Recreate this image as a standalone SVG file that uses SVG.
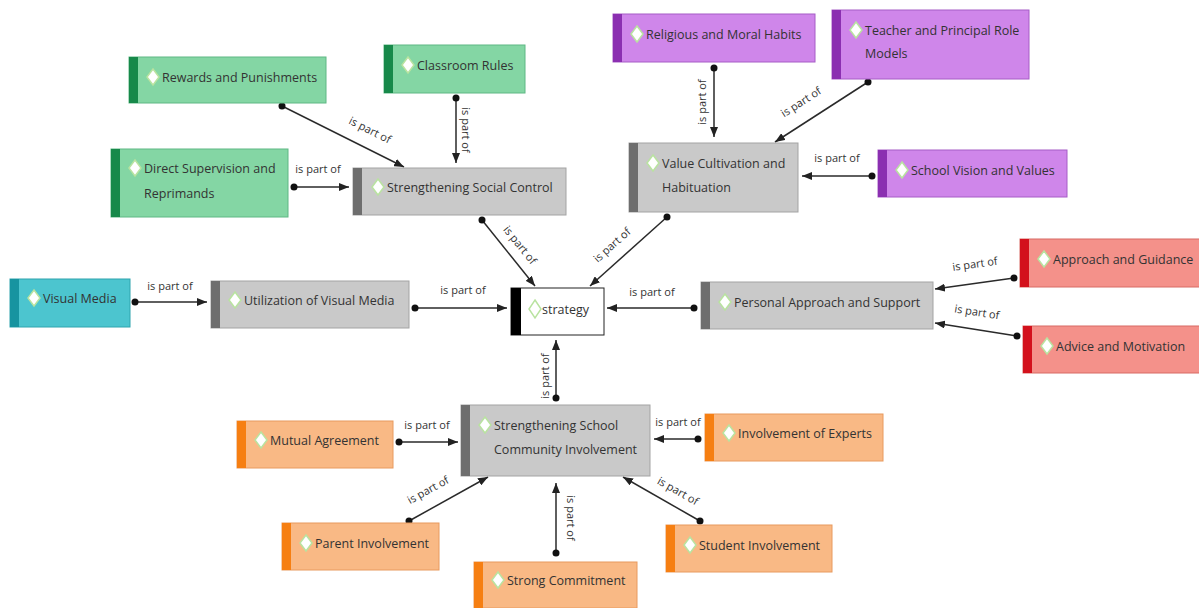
<svg xmlns="http://www.w3.org/2000/svg" width="1199" height="608" viewBox="0 0 1199 608">
<style>
.box{stroke-width:1}
.green{fill:#84d6a4;stroke:#5fb884}
.greenS{fill:#17894a}
.purple{fill:#cf86ea;stroke:#a65cc6}
.purpleS{fill:#8b2fb1}
.gray{fill:#c9c9c9;stroke:#a3a3a3}
.grayS{fill:#6e6e6e}
.teal{fill:#4cc5cf;stroke:#2ea4ae}
.tealS{fill:#1794a0}
.red{fill:#f4918a;stroke:#d86a64}
.redS{fill:#d3111c}
.orange{fill:#f9b985;stroke:#e89a5e}
.orangeS{fill:#f67f12}
.white{fill:#ffffff;stroke:#222222}
.blackS{fill:#000000}
.dia{fill:#ffffff;stroke:#b9e3a0;stroke-width:1.5}
.t{font-family:"Open Sans","Noto Sans","Liberation Sans",sans-serif;font-size:12.5px;fill:#333333}
.lbl{font-family:"Open Sans","Noto Sans","Liberation Sans",sans-serif;font-size:11px;fill:#333333;text-anchor:middle}
.edge{stroke:#2a2a2a;stroke-width:1.5;fill:none;marker-start:url(#dot);marker-end:url(#arr)}
</style>
<defs>
<marker id="arr" markerWidth="10" markerHeight="8" refX="10" refY="4" orient="auto" markerUnits="userSpaceOnUse"><path d="M0,0 L10,4 L0,8 z" fill="#222222"/></marker>
<marker id="dot" markerWidth="8" markerHeight="8" refX="4" refY="4" markerUnits="userSpaceOnUse"><circle cx="4" cy="4" r="3.5" fill="#111111"/></marker>
</defs>
<rect width="1199" height="608" fill="#ffffff"/>

<g id="connectors">
<line class="edge" x1="282" y1="106" x2="404" y2="167"/>
<text class="lbl" transform="translate(370,130) rotate(26.6)" dy="0.35em">is part of</text>
<line class="edge" x1="456" y1="98" x2="456" y2="163"/>
<text class="lbl" transform="translate(466,130) rotate(90)" dy="0.35em">is part of</text>
<line class="edge" x1="294" y1="187" x2="349" y2="187"/>
<text class="lbl" transform="translate(318,169)" dy="0.35em">is part of</text>
<line class="edge" x1="482" y1="220" x2="535" y2="286"/>
<text class="lbl" transform="translate(520,245) rotate(51)" dy="0.35em">is part of</text>
<line class="edge" x1="667" y1="217" x2="590" y2="286"/>
<text class="lbl" transform="translate(612,245) rotate(-41.9)" dy="0.35em">is part of</text>
<line class="edge" x1="714" y1="68" x2="714" y2="137"/>
<text class="lbl" transform="translate(702,102) rotate(-90)" dy="0.35em">is part of</text>
<line class="edge" x1="868" y1="82" x2="775" y2="142"/>
<text class="lbl" transform="translate(801,102) rotate(-32.8)" dy="0.35em">is part of</text>
<line class="edge" x1="872" y1="176" x2="802" y2="176"/>
<text class="lbl" transform="translate(837,158)" dy="0.35em">is part of</text>
<line class="edge" x1="135" y1="302" x2="207" y2="302"/>
<text class="lbl" transform="translate(170,286)" dy="0.35em">is part of</text>
<line class="edge" x1="415" y1="308" x2="507" y2="308"/>
<text class="lbl" transform="translate(463,290)" dy="0.35em">is part of</text>
<line class="edge" x1="694" y1="308" x2="607" y2="308"/>
<text class="lbl" transform="translate(652,292)" dy="0.35em">is part of</text>
<line class="edge" x1="1014" y1="278" x2="935" y2="289"/>
<text class="lbl" transform="translate(975,264) rotate(-8)" dy="0.35em">is part of</text>
<line class="edge" x1="1017" y1="336" x2="935" y2="323"/>
<text class="lbl" transform="translate(977,312) rotate(9)" dy="0.35em">is part of</text>
<line class="edge" x1="556" y1="398" x2="556" y2="340"/>
<text class="lbl" transform="translate(545,376) rotate(-90)" dy="0.35em">is part of</text>
<line class="edge" x1="399" y1="442" x2="458" y2="442"/>
<text class="lbl" transform="translate(427,425)" dy="0.35em">is part of</text>
<line class="edge" x1="698" y1="439" x2="654" y2="439"/>
<text class="lbl" transform="translate(678,422)" dy="0.35em">is part of</text>
<line class="edge" x1="409" y1="521" x2="488" y2="477"/>
<text class="lbl" transform="translate(428,490) rotate(-29)" dy="0.35em">is part of</text>
<line class="edge" x1="556" y1="553" x2="556" y2="483"/>
<text class="lbl" transform="translate(571,518) rotate(90)" dy="0.35em">is part of</text>
<line class="edge" x1="700" y1="521" x2="623" y2="477"/>
<text class="lbl" transform="translate(678,491) rotate(29.7)" dy="0.35em">is part of</text>
</g>

<g id="n-rewards"><rect class="box green" x="129" y="57" width="197" height="46"/><rect class="greenS" x="129" y="57" width="9" height="46"/><polygon class="dia" points="153,69 159,77 153,85 147,77"/><text class="t" x="162" y="81.5">Rewards and Punishments</text></g>
<g id="n-classroom"><rect class="box green" x="384" y="45" width="141" height="48"/><rect class="greenS" x="384" y="45" width="9" height="48"/><polygon class="dia" points="408,57 414,65 408,73 402,65"/><text class="t" x="417" y="69.5">Classroom Rules</text></g>
<g id="n-direct"><rect class="box green" x="111" y="149" width="177" height="68"/><rect class="greenS" x="111" y="149" width="9" height="68"/><polygon class="dia" points="135,160 141,168 135,176 129,168"/><text class="t" x="144" y="172.5">Direct Supervision and</text><text class="t" x="144" y="197.5">Reprimands</text></g>
<g id="n-ssc"><rect class="box gray" x="353" y="168" width="213" height="47"/><rect class="grayS" x="353" y="168" width="9" height="47"/><polygon class="dia" points="378,179 384,187 378,195 372,187"/><text class="t" x="387" y="191.5">Strengthening Social Control</text></g>
<g id="n-rmh"><rect class="box purple" x="613" y="14" width="202" height="48"/><rect class="purpleS" x="613" y="14" width="9" height="48"/><polygon class="dia" points="637,26 643,34 637,42 631,34"/><text class="t" x="646" y="38.5">Religious and Moral Habits</text></g>
<g id="n-tprm"><rect class="box purple" x="832" y="10" width="197" height="69"/><rect class="purpleS" x="832" y="10" width="9" height="69"/><polygon class="dia" points="856,22 862,30 856,38 850,30"/><text class="t" x="865" y="34.5">Teacher and Principal Role</text><text class="t" x="865" y="58">Models</text></g>
<g id="n-vch"><rect class="box gray" x="629" y="143" width="169" height="69"/><rect class="grayS" x="629" y="143" width="9" height="69"/><polygon class="dia" points="653,155 659,163 653,171 647,163"/><text class="t" x="662" y="167.5">Value Cultivation and</text><text class="t" x="662" y="191.5">Habituation</text></g>
<g id="n-svv"><rect class="box purple" x="878" y="150" width="189" height="47"/><rect class="purpleS" x="878" y="150" width="9" height="47"/><polygon class="dia" points="902,162 908,170 902,178 896,170"/><text class="t" x="911" y="174.5">School Vision and Values</text></g>
<g id="n-vm"><rect class="box teal" x="10" y="279" width="120" height="48"/><rect class="tealS" x="10" y="279" width="9" height="48"/><polygon class="dia" points="34,290 40,298 34,306 28,298"/><text class="t" x="43" y="302.5">Visual Media</text></g>
<g id="n-uvm"><rect class="box gray" x="211" y="281" width="198" height="47"/><rect class="grayS" x="211" y="281" width="9" height="47"/><polygon class="dia" points="235,292 241,300 235,308 229,300"/><text class="t" x="244" y="304.5">Utilization of Visual Media</text></g>
<g id="n-strategy"><rect class="box white" x="511" y="288" width="93" height="47"/><rect class="blackS" x="511" y="288" width="10" height="47"/><polygon class="dia" points="535,300 541,309 535,318 529,309"/><text class="t" x="542" y="313.5">strategy</text></g>
<g id="n-pas"><rect class="box gray" x="701" y="282" width="232" height="47"/><rect class="grayS" x="701" y="282" width="9" height="47"/><polygon class="dia" points="725,294 731,302 725,310 719,302"/><text class="t" x="734" y="306.5">Personal Approach and Support</text></g>
<g id="n-ag"><rect class="box red" x="1020" y="239" width="180" height="48"/><rect class="redS" x="1020" y="239" width="9" height="48"/><polygon class="dia" points="1044,251 1050,259 1044,267 1038,259"/><text class="t" x="1053" y="263.5">Approach and Guidance</text></g>
<g id="n-am"><rect class="box red" x="1023" y="326" width="177" height="47"/><rect class="redS" x="1023" y="326" width="9" height="47"/><polygon class="dia" points="1047,338 1053,346 1047,354 1041,346"/><text class="t" x="1056" y="350.5">Advice and Motivation</text></g>
<g id="n-ssci"><rect class="box gray" x="461" y="405" width="189" height="71"/><rect class="grayS" x="461" y="405" width="9" height="71"/><polygon class="dia" points="485,417 491,425 485,433 479,425"/><text class="t" x="494" y="429.5">Strengthening School</text><text class="t" x="494" y="453.5">Community Involvement</text></g>
<g id="n-ma"><rect class="box orange" x="237" y="421" width="156" height="47"/><rect class="orangeS" x="237" y="421" width="9" height="47"/><polygon class="dia" points="261,432 267,440 261,448 255,440"/><text class="t" x="270" y="444.5">Mutual Agreement</text></g>
<g id="n-ie"><rect class="box orange" x="705" y="414" width="178" height="47"/><rect class="orangeS" x="705" y="414" width="9" height="47"/><polygon class="dia" points="729,425 735,433 729,441 723,433"/><text class="t" x="738" y="437.5">Involvement of Experts</text></g>
<g id="n-pi"><rect class="box orange" x="282" y="523" width="157" height="47"/><rect class="orangeS" x="282" y="523" width="9" height="47"/><polygon class="dia" points="306,535 312,543 306,551 300,543"/><text class="t" x="315" y="547.5">Parent Involvement</text></g>
<g id="n-sc"><rect class="box orange" x="474" y="562" width="163" height="46"/><rect class="orangeS" x="474" y="562" width="9" height="46"/><polygon class="dia" points="498,572 504,580 498,588 492,580"/><text class="t" x="507" y="584.5">Strong Commitment</text></g>
<g id="n-si"><rect class="box orange" x="666" y="525" width="166" height="47"/><rect class="orangeS" x="666" y="525" width="9" height="47"/><polygon class="dia" points="690,537 696,545 690,553 684,545"/><text class="t" x="699" y="549.5">Student Involvement</text></g>
</svg>
